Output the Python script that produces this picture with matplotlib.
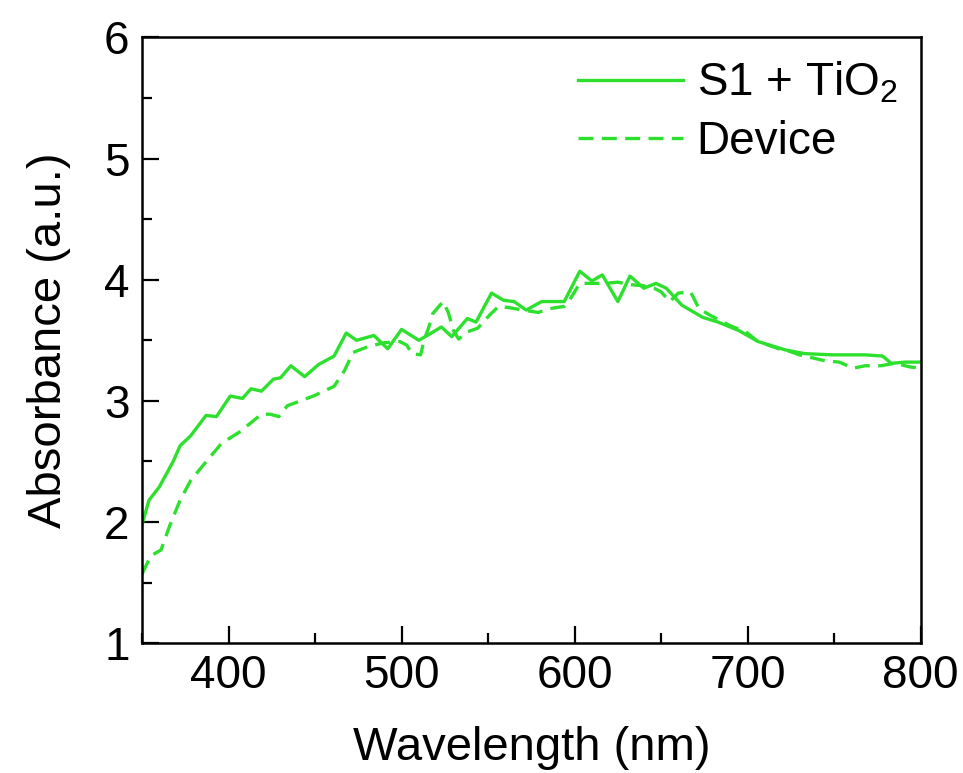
import matplotlib.pyplot as plt
from matplotlib.ticker import MultipleLocator

plt.rcParams['font.family'] = ['Liberation Sans', 'DejaVu Sans']
plt.rcParams['mathtext.fontset'] = 'custom'
plt.rcParams['mathtext.rm'] = 'Liberation Sans'
plt.rcParams['mathtext.it'] = 'Liberation Sans'

# S1 + TiO2 (solid)
wl_s = [350, 354, 360, 368, 372, 378, 387, 393, 401, 408, 413, 419, 426, 430,
        436, 444, 452, 461, 468, 474, 484, 492, 500, 510, 516, 523, 529, 538,
        543, 552, 559, 565, 572, 581, 594, 603, 610, 616, 625, 632, 640, 647,
        653, 662, 674, 683, 695, 706, 722, 733, 749, 768, 778, 783, 791, 800]
abs_s = [1.98, 2.18, 2.29, 2.50, 2.63, 2.71, 2.88, 2.87, 3.04, 3.02, 3.10,
         3.08, 3.18, 3.19, 3.29, 3.20, 3.30, 3.37, 3.56, 3.50, 3.54, 3.43,
         3.59, 3.50, 3.55, 3.61, 3.53, 3.68, 3.65, 3.89, 3.83, 3.82, 3.75,
         3.82, 3.82, 4.07, 3.99, 4.04, 3.82, 4.03, 3.93, 3.97, 3.93, 3.79,
         3.69, 3.65, 3.58, 3.49, 3.42, 3.39, 3.38, 3.38, 3.37, 3.31, 3.32, 3.32]

# Device (dashed)
wl_d = [350, 355, 361, 366, 372, 378, 386, 396, 406, 413, 419, 424, 429, 434,
        449, 461, 467, 472, 481, 490, 499, 503, 506, 511, 513, 516, 518, 524,
        527, 530, 533, 538, 544, 551, 556, 562, 570, 579, 585, 594, 597, 603,
        609, 618, 625, 632, 640, 646, 650, 655, 660, 667, 672, 678, 690, 699,
        706, 718, 722, 730, 736, 745, 753, 761, 768, 777, 785, 794, 800]
abs_d = [1.57, 1.72, 1.77, 1.97, 2.18, 2.34, 2.48, 2.65, 2.74, 2.82, 2.89,
         2.89, 2.87, 2.96, 3.04, 3.12, 3.25, 3.40, 3.45, 3.48, 3.49, 3.46,
         3.39, 3.38, 3.50, 3.62, 3.72, 3.82, 3.73, 3.58, 3.51, 3.57, 3.60,
         3.71, 3.78, 3.77, 3.75, 3.73, 3.76, 3.78, 3.83, 3.97, 3.97, 3.97,
         3.98, 3.96, 3.95, 3.93, 3.90, 3.82, 3.89, 3.90, 3.76, 3.71, 3.62,
         3.57, 3.49, 3.43, 3.42, 3.38, 3.36, 3.33, 3.32, 3.27, 3.29, 3.29,
         3.31, 3.28, 3.27]

green = '#2ee02e'

fig = plt.figure(figsize=(9.63, 7.73), dpi=100)
ax = fig.add_axes([0.1475, 0.168, 0.8085, 0.7835])

ax.plot(wl_s, abs_s, color=green, lw=2.4, label='S1 + TiO$_2$')
ax.plot(wl_d, abs_d, color=green, lw=2.4, dashes=[4.5, 2.5], label='Device')

ax.set_xlim(350, 800)
ax.set_ylim(1, 6)
ax.xaxis.set_major_locator(MultipleLocator(100))
ax.xaxis.set_minor_locator(MultipleLocator(50))
ax.yaxis.set_major_locator(MultipleLocator(1))
ax.yaxis.set_minor_locator(MultipleLocator(0.5))

ax.tick_params(which='both', direction='in', top=False, right=False, width=1.6)
ax.tick_params(which='major', length=12, labelsize=33)
ax.tick_params(which='minor', length=7)
ax.tick_params(axis='x', pad=8)
ax.tick_params(axis='y', pad=9)
for s in ax.spines.values():
    s.set_linewidth(1.8)

ax.set_xlabel('Wavelength (nm)', fontsize=34, labelpad=20)
ax.set_ylabel('Absorbance (a.u.)', fontsize=34, labelpad=24)

ax.legend(loc='upper right', frameon=False, fontsize=33, handlelength=2.3,
          handletextpad=0.3, labelspacing=0.3, borderaxespad=0.1)

fig.savefig('out.png', dpi=100)
